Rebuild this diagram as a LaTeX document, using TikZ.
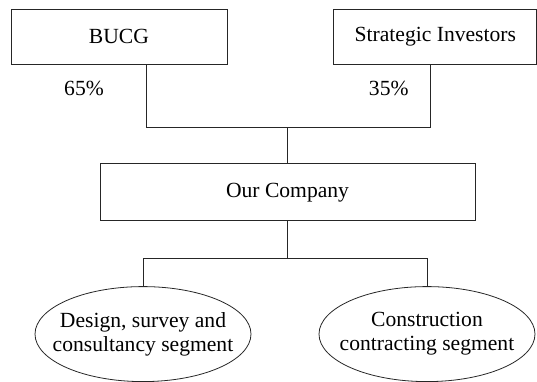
\documentclass[tikz,border=0pt]{standalone}
\usepackage{fontspec}
\setmainfont{Liberation Serif}
\usepackage{tikz}
\usetikzlibrary{shapes,arrows,positioning}
\tikzset{org-line/.style={line width=0.6pt, draw=black!85}}
\tikzset{org-box/.style={draw=black!85, line width=0.6pt, inner sep=0, minimum height=41.25pt}}
\tikzset{org-ellipse/.style={ellipse, draw=black!85, line width=0.6pt, inner xsep=-11pt, inner ysep=0, minimum width=162pt, minimum height=71.25pt, align=center}}
\tikzset{org-label/.style={inner sep=0}}

\begin{document}
\begin{tikzpicture}[font=\fontsize{16.2}{18}\selectfont]
            \useasboundingbox (0,0) rectangle (402.75pt,-286.5pt);

            \node[org-box, minimum width=162pt] (node1) at (89.25pt,-27.375pt) {BUCG};
            \node[org-box, minimum width=152.25pt, right=79.5pt of node1] (node2) {Strategic Investors};

            \node[org-box, minimum width=281.25pt, minimum height=42.75pt, below=74.25pt of node1.south, xshift=126.4pt] (node3) {Our Company};

            \node[org-ellipse, below=48.75pt of node3.south, xshift=-108.4pt] (node4) {Design, survey and\\consultancy segment};
            \node[org-ellipse, below=48.75pt of node3.south, xshift=104.6pt] (node5) {Construction\\contracting segment};

            \node[org-label] (pct1) at ([xshift=-26.25pt, yshift=-18pt]node1.south) {65\%};
            \node[org-label] (pct2) at ([xshift=-34.9pt, yshift=-18pt]node2.south) {35\%};

            \coordinate[above=27pt of node3.north] (join1);
            \coordinate[below=27.75pt of node3.south] (join2);

            \draw[org-line] ([xshift=20.25pt]node1.south) |- (join1);
            \draw[org-line] ([xshift=-4pt]node2.south) |- (join1);
            \draw[org-line] (join1) -- (node3.north);

            \draw[org-line] (node3.south) -- (join2);
            \draw[org-line] (join2) -| (node4.north);
            \draw[org-line] (join2) -| (node5.north);

        \end{tikzpicture}
\end{document}
